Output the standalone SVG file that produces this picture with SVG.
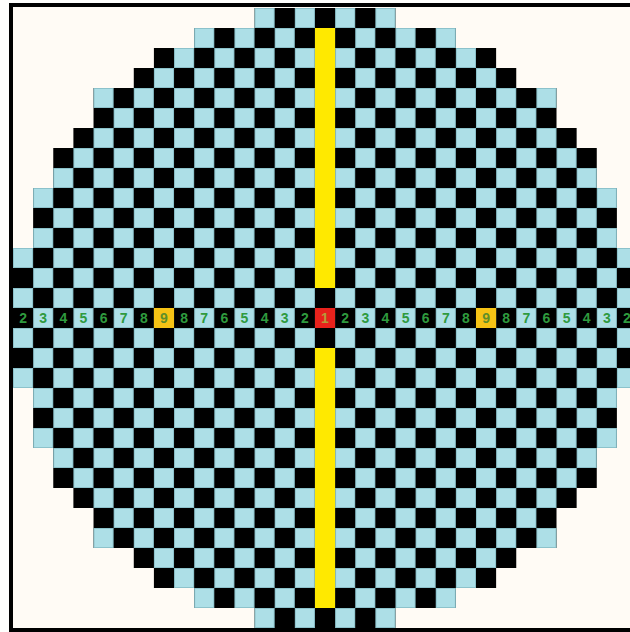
<svg xmlns="http://www.w3.org/2000/svg" width="630" height="632" viewBox="0 0 630 632">
<style>
.k{fill:#000}
.lo{stroke:#8cc2cb;stroke-width:20;stroke-dasharray:20.13 20.13;fill:none}
.li{stroke:#addfe7;stroke-width:18;stroke-dasharray:18.13 22.13;fill:none}
.n{font-family:"Liberation Sans",Arial,sans-serif;font-size:14px;font-weight:bold;fill:#2f9a3e;text-anchor:middle}
</style>
<rect x="0" y="0" width="630" height="632" fill="#fefefc"/>
<rect x="11" y="5" width="630" height="625" fill="#fffbf5"/>
<g id="board">
<g id="black">
<rect class="k" x="254.56" y="8" width="140.91" height="20"/>
<rect class="k" x="194.17" y="28" width="261.69" height="20"/>
<rect class="k" x="153.91" y="48" width="342.21" height="20"/>
<rect class="k" x="133.78" y="68" width="382.47" height="20"/>
<rect class="k" x="93.52" y="88" width="462.99" height="40"/>
<rect class="k" x="73.39" y="128" width="503.25" height="20"/>
<rect class="k" x="53.26" y="148" width="543.51" height="40"/>
<rect class="k" x="33.13" y="188" width="583.77" height="60"/>
<rect class="k" x="13" y="248" width="624.03" height="140"/>
<rect class="k" x="33.13" y="388" width="583.77" height="60"/>
<rect class="k" x="53.26" y="448" width="543.51" height="40"/>
<rect class="k" x="73.39" y="488" width="503.25" height="20"/>
<rect class="k" x="93.52" y="508" width="462.99" height="40"/>
<rect class="k" x="133.78" y="548" width="382.47" height="20"/>
<rect class="k" x="153.91" y="568" width="342.21" height="20"/>
<rect class="k" x="194.17" y="588" width="261.69" height="20"/>
<rect class="k" x="254.56" y="608" width="140.91" height="20"/>
</g>
<g id="light-outline">
<line class="lo" x1="254.56" x2="395.47" y1="18" y2="18"/>
<line class="lo" x1="194.17" x2="455.86" y1="38" y2="38"/>
<line class="lo" x1="174.04" x2="496.12" y1="58" y2="58"/>
<line class="lo" x1="153.91" x2="516.25" y1="78" y2="78"/>
<line class="lo" x1="93.52" x2="556.51" y1="98" y2="98"/>
<line class="lo" x1="113.65" x2="556.51" y1="118" y2="118"/>
<line class="lo" x1="93.52" x2="576.64" y1="138" y2="138"/>
<line class="lo" x1="73.39" x2="596.77" y1="158" y2="158"/>
<line class="lo" x1="53.26" x2="596.77" y1="178" y2="178"/>
<line class="lo" x1="33.13" x2="616.9" y1="198" y2="198"/>
<line class="lo" x1="53.26" x2="616.9" y1="218" y2="218"/>
<line class="lo" x1="33.13" x2="616.9" y1="238" y2="238"/>
<line class="lo" x1="13" x2="637.03" y1="258" y2="258"/>
<line class="lo" x1="33.13" x2="637.03" y1="278" y2="278"/>
<line class="lo" x1="13" x2="637.03" y1="298" y2="298"/>
<line class="lo" x1="33.13" x2="637.03" y1="318" y2="318"/>
<line class="lo" x1="13" x2="637.03" y1="338" y2="338"/>
<line class="lo" x1="33.13" x2="637.03" y1="358" y2="358"/>
<line class="lo" x1="13" x2="637.03" y1="378" y2="378"/>
<line class="lo" x1="33.13" x2="616.9" y1="398" y2="398"/>
<line class="lo" x1="53.26" x2="616.9" y1="418" y2="418"/>
<line class="lo" x1="33.13" x2="616.9" y1="438" y2="438"/>
<line class="lo" x1="53.26" x2="596.77" y1="458" y2="458"/>
<line class="lo" x1="73.39" x2="596.77" y1="478" y2="478"/>
<line class="lo" x1="93.52" x2="576.64" y1="498" y2="498"/>
<line class="lo" x1="113.65" x2="556.51" y1="518" y2="518"/>
<line class="lo" x1="93.52" x2="556.51" y1="538" y2="538"/>
<line class="lo" x1="153.91" x2="516.25" y1="558" y2="558"/>
<line class="lo" x1="174.04" x2="496.12" y1="578" y2="578"/>
<line class="lo" x1="194.17" x2="455.86" y1="598" y2="598"/>
<line class="lo" x1="254.56" x2="395.47" y1="618" y2="618"/>
</g>
<g id="light-fill">
<line class="li" x1="255.56" x2="395.47" y1="18" y2="18"/>
<line class="li" x1="195.17" x2="455.86" y1="38" y2="38"/>
<line class="li" x1="175.04" x2="496.12" y1="58" y2="58"/>
<line class="li" x1="154.91" x2="516.25" y1="78" y2="78"/>
<line class="li" x1="94.52" x2="556.51" y1="98" y2="98"/>
<line class="li" x1="114.65" x2="556.51" y1="118" y2="118"/>
<line class="li" x1="94.52" x2="576.64" y1="138" y2="138"/>
<line class="li" x1="74.39" x2="596.77" y1="158" y2="158"/>
<line class="li" x1="54.26" x2="596.77" y1="178" y2="178"/>
<line class="li" x1="34.13" x2="616.9" y1="198" y2="198"/>
<line class="li" x1="54.26" x2="616.9" y1="218" y2="218"/>
<line class="li" x1="34.13" x2="616.9" y1="238" y2="238"/>
<line class="li" x1="14" x2="637.03" y1="258" y2="258"/>
<line class="li" x1="34.13" x2="637.03" y1="278" y2="278"/>
<line class="li" x1="14" x2="637.03" y1="298" y2="298"/>
<line class="li" x1="34.13" x2="637.03" y1="318" y2="318"/>
<line class="li" x1="14" x2="637.03" y1="338" y2="338"/>
<line class="li" x1="34.13" x2="637.03" y1="358" y2="358"/>
<line class="li" x1="14" x2="637.03" y1="378" y2="378"/>
<line class="li" x1="34.13" x2="616.9" y1="398" y2="398"/>
<line class="li" x1="54.26" x2="616.9" y1="418" y2="418"/>
<line class="li" x1="34.13" x2="616.9" y1="438" y2="438"/>
<line class="li" x1="54.26" x2="596.77" y1="458" y2="458"/>
<line class="li" x1="74.39" x2="596.77" y1="478" y2="478"/>
<line class="li" x1="94.52" x2="576.64" y1="498" y2="498"/>
<line class="li" x1="114.65" x2="556.51" y1="518" y2="518"/>
<line class="li" x1="94.52" x2="556.51" y1="538" y2="538"/>
<line class="li" x1="154.91" x2="516.25" y1="558" y2="558"/>
<line class="li" x1="175.04" x2="496.12" y1="578" y2="578"/>
<line class="li" x1="195.17" x2="455.86" y1="598" y2="598"/>
<line class="li" x1="255.56" x2="395.47" y1="618" y2="618"/>
</g>
</g>
<g id="yellow-bars" fill="#ffe900">
<rect x="314.95" y="28" width="20.13" height="260"/>
<rect x="314.95" y="348" width="20.13" height="260"/>
</g>
<g id="marks">
<rect x="314.95" y="308" width="20.13" height="20" fill="#e8221c"/>
<rect x="153.91" y="308" width="20.13" height="20" fill="#f6c315"/>
<rect x="475.99" y="308" width="20.13" height="20" fill="#f6c315"/>
</g>
<g id="numbers">
<text class="n" x="23.07" y="323">2</text>
<text class="n" x="43.2" y="323">3</text>
<text class="n" x="63.33" y="323">4</text>
<text class="n" x="83.46" y="323">5</text>
<text class="n" x="103.59" y="323">6</text>
<text class="n" x="123.72" y="323">7</text>
<text class="n" x="143.85" y="323">8</text>
<text class="n" x="163.98" y="323" style="fill:#5f8f2a">9</text>
<text class="n" x="184.11" y="323">8</text>
<text class="n" x="204.24" y="323">7</text>
<text class="n" x="224.37" y="323">6</text>
<text class="n" x="244.5" y="323">5</text>
<text class="n" x="264.63" y="323">4</text>
<text class="n" x="284.76" y="323">3</text>
<text class="n" x="304.89" y="323">2</text>
<text class="n" x="325.02" y="323" style="fill:#b59a3a">1</text>
<text class="n" x="345.15" y="323">2</text>
<text class="n" x="365.28" y="323">3</text>
<text class="n" x="385.41" y="323">4</text>
<text class="n" x="405.54" y="323">5</text>
<text class="n" x="425.67" y="323">6</text>
<text class="n" x="445.8" y="323">7</text>
<text class="n" x="465.93" y="323">8</text>
<text class="n" x="486.06" y="323" style="fill:#5f8f2a">9</text>
<text class="n" x="506.19" y="323">8</text>
<text class="n" x="526.32" y="323">7</text>
<text class="n" x="546.45" y="323">6</text>
<text class="n" x="566.58" y="323">5</text>
<text class="n" x="586.71" y="323">4</text>
<text class="n" x="606.84" y="323">3</text>
<text class="n" x="626.97" y="323">2</text>
</g>
<g id="frame" fill="none" stroke="#000" stroke-width="4">
<path d="M11,632 V5 H632"/>
<path d="M9,630 H632"/>
</g>
</svg>
